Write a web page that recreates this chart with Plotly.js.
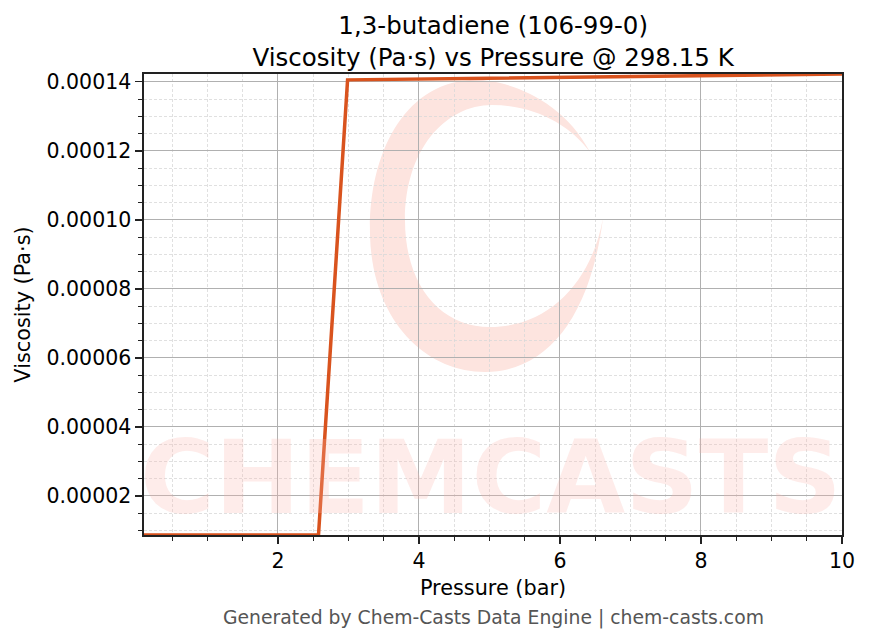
<!DOCTYPE html>
<html>
<head>
<meta charset="utf-8">
<script src="https://cdn.plot.ly/plotly-3.0.1.min.js"></script>
<style>html,body{margin:0;padding:0;background:#fff;}#chart{width:869px;height:644px;}</style>
</head>
<body>
<div id="chart"></div>
<script>
var pressure = [0.1, 0.5125, 0.925, 1.3375, 1.75, 2.1625, 2.575, 2.9875, 3.4, 3.8125, 4.225, 4.6375, 5.05, 5.4625, 5.875, 6.2875, 6.7, 7.1125, 7.525, 7.9375, 8.35, 8.7625, 9.175, 9.5875, 10.0];
var viscosity = [8.7e-6, 8.7e-6, 8.7e-6, 8.7e-6, 8.7e-6, 8.7e-6, 8.7e-6,
  1.4055e-4, 1.4065e-4, 1.4075e-4, 1.4085e-4, 1.4095e-4, 1.4105e-4, 1.4115e-4, 1.4125e-4, 1.4135e-4,
  1.4145e-4, 1.4155e-4, 1.4165e-4, 1.4175e-4, 1.4185e-4, 1.4195e-4, 1.4205e-4, 1.4215e-4, 1.4225e-4];
var titleText = "1,3-butadiene (106-99-0)<br>Viscosity (Pa·s) vs Pressure @ 298.15 K";
var xTitle = "Pressure (bar)";
var yTitle = "Viscosity (Pa·s)";
var footer = "Generated by Chem-Casts Data Engine | chem-casts.com";
var watermark = "CHEMCASTS";

var font = "DejaVu Sans, sans-serif";
var M = {l: 144, r: 27, t: 74, b: 109};
var W = 869, H = 644;
var pw = W - M.l - M.r, ph = H - M.t - M.b;
function P(px, py) { return ((px - M.l) / pw).toFixed(4) + ',' + ((H - M.b - py) / ph).toFixed(4); }
// swirl logo watermark (decorative), outlined in pixel space
var swirl = 'M ' + P(590,152) +
  ' C ' + P(560,95) + ' ' + P(500,78) + ' ' + P(470,80) +
  ' C ' + P(400,85) + ' ' + P(368,160) + ' ' + P(370,235) +
  ' C ' + P(372,320) + ' ' + P(425,372) + ' ' + P(485,372) +
  ' C ' + P(545,372) + ' ' + P(590,320) + ' ' + P(603,218) +
  ' C ' + P(592,280) + ' ' + P(550,327) + ' ' + P(490,327) +
  ' C ' + P(440,327) + ' ' + P(405,285) + ' ' + P(405,220) +
  ' C ' + P(405,150) + ' ' + P(445,105) + ' ' + P(492,105) +
  ' C ' + P(535,105) + ' ' + P(570,125) + ' ' + P(590,152) + ' Z';

var trace = {
  x: pressure, y: viscosity, type: 'scatter', mode: 'lines',
  line: {color: '#d9531e', width: 3.5}, hoverinfo: 'skip'
};
var layout = {
  width: W, height: H,
  margin: M,
  paper_bgcolor: '#fff', plot_bgcolor: 'rgba(0,0,0,0)',
  showlegend: false,
  font: {family: font, size: 20.5, color: '#000'},
  title: {text: titleText, font: {family: font, size: 24.5, color: '#000'}, x: 0.5675, xanchor: 'center', yref: 'container', y: 0.947, yanchor: 'top'},
  xaxis: {
    title: {text: xTitle, font: {size: 20.8}, standoff: 8},
    range: [0.1, 10], dtick: 2, tick0: 0,
    tickfont: {size: 20.5},
    showline: true, linecolor: '#222', linewidth: 1.6, mirror: true,
    ticks: 'outside', ticklen: 7, tickwidth: 1.4, tickcolor: '#222',
    showgrid: true, gridcolor: '#b0b0b0', gridwidth: 1, zeroline: false,
    minor: {dtick: 0.5, tick0: 0, ticks: 'outside', ticklen: 4, tickwidth: 1, tickcolor: '#222', showgrid: true, gridcolor: '#d8d8d8', griddash: '3px,2px', gridwidth: 0.8}
  },
  yaxis: {
    title: {text: yTitle, font: {size: 20.8}, standoff: 10},
    range: [8.7e-6, 1.4225e-4], dtick: 2e-5, tick0: 0, tickformat: '.5f',
    tickfont: {size: 20.5},
    showline: true, linecolor: '#222', linewidth: 1.6, mirror: true,
    ticks: 'outside', ticklen: 7, tickwidth: 1.4, tickcolor: '#222',
    showgrid: true, gridcolor: '#b0b0b0', gridwidth: 1, zeroline: false,
    minor: {dtick: 5e-6, tick0: 0, ticks: 'outside', ticklen: 4, tickwidth: 1, tickcolor: '#222', showgrid: true, gridcolor: '#d8d8d8', griddash: '3px,2px', gridwidth: 0.8}
  },
  shapes: [
    {type: 'path', xref: 'paper', yref: 'paper', layer: 'below', path: swirl,
     fillcolor: '#fde4df', line: {width: 0}}
  ],
  annotations: [
    {text: watermark, xref: 'paper', yref: 'paper', x: 0.497, y: 0.124, xanchor: 'center', yanchor: 'middle', showarrow: false,
     font: {family: 'DejaVu Sans, sans-serif', size: 102, color: 'rgba(250,180,170,0.25)', weight: 'bold'}},
    {text: footer, xref: 'paper', yref: 'paper', x: 0.5, y: -0.18, xanchor: 'center', yanchor: 'middle', showarrow: false,
     font: {family: font, size: 18.8, color: '#555'}}
  ]
};
Plotly.newPlot('chart', [trace], layout, {staticPlot: true, displayModeBar: false});
</script>
</body>
</html>
